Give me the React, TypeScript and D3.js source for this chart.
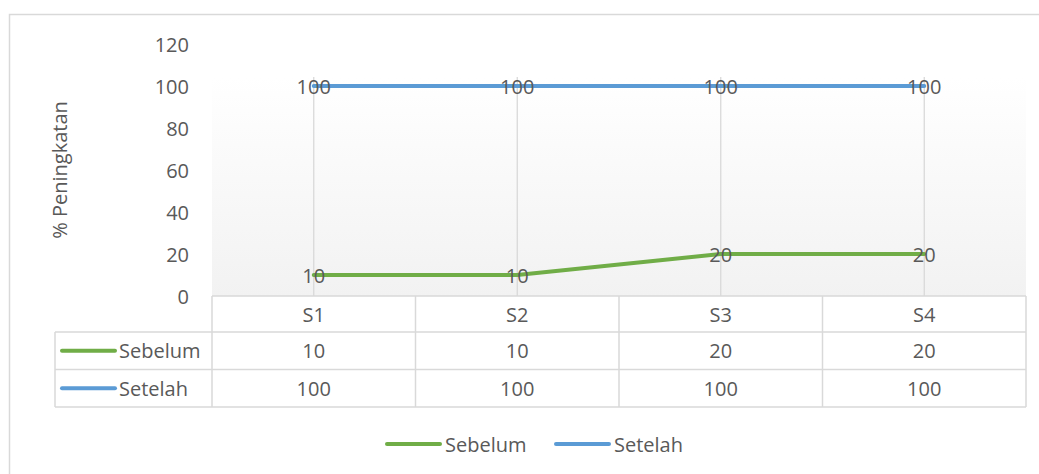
import React from 'react'
import * as d3 from 'd3'

// chart data
const categories = ['S1', 'S2', 'S3', 'S4']
const sebelum = [10, 10, 20, 20]
const setelah = [100, 100, 100, 100]
const yTicks = [0, 20, 40, 60, 80, 100, 120]

const series = [
    { name: 'Sebelum', values: sebelum, color: '#70ad47' },
    { name: 'Setelah', values: setelah, color: '#5b9bd5' },
]

const W = 1039
const H = 474
const FONT = "'Open Sans', sans-serif"
const TXT = '#595959'
const GRID = '#d9d9d9'

const App: React.FC = () => {
    const x = d3.scaleBand<string>().domain(categories).range([212, 1026])
    const y = d3.scaleLinear().domain([0, 120]).range([296, 44])
    const cx = (c: string) => (x(c) as number) + x.bandwidth() / 2

    const line = d3
        .line<number>()
        .x((_, i) => cx(categories[i]))
        .y((d) => y(d))

    // table rows
    const headTop = 296
    const rowH = 37.5
    const tableLeft = 55
    const rowTops = [headTop + 36, headTop + 36 + rowH]
    const tableBottom = rowTops[1] + rowH
    const bounds = [212, ...categories.map((c) => (x(c) as number) + x.bandwidth())]

    return (
        <div style={{ position: 'fixed', left: 0, top: 0 }}>
            <svg width={W} height={H} style={{ display: 'block', background: '#fff' }}>
                <defs>
                    <linearGradient id="plotbg" x1="0" y1="0" x2="0" y2="1">
                        <stop offset="0" stopColor="#ffffff" />
                        <stop offset="1" stopColor="#f2f2f2" />
                    </linearGradient>
                </defs>

                {/* chart frame */}
                <path d={`M9.5,${H} V14.5 H${W}`} fill="none" stroke={GRID} strokeWidth={1.5} />

                {/* plot background */}
                <rect x={212} y={77} width={1026 - 212} height={296 - 77} fill="url(#plotbg)" />

                {/* vertical gridlines */}
                {categories.map((c) => (
                    <line key={c} x1={cx(c)} x2={cx(c)} y1={77} y2={296} stroke={GRID} strokeWidth={1.3} />
                ))}

                {/* y tick labels */}
                {yTicks.map((t) => (
                    <text
                        key={t}
                        x={189}
                        y={y(t)}
                        textAnchor="end"
                        dominantBaseline="central"
                        fontFamily={FONT}
                        fontSize={20}
                        fill={TXT}
                    >
                        {t}
                    </text>
                ))}

                {/* y axis title */}
                <text
                    transform="translate(59,170) rotate(-90)"
                    textAnchor="middle"
                    dominantBaseline="central"
                    fontFamily={FONT}
                    fontSize={20}
                    fill={TXT}
                >
                    % Peningkatan
                </text>

                {/* lines */}
                {series.map((s) => (
                    <path
                        key={s.name}
                        d={line(s.values) as string}
                        fill="none"
                        stroke={s.color}
                        strokeWidth={4}
                        strokeLinecap="round"
                    />
                ))}

                {/* data labels */}
                {series.map((s) =>
                    s.values.map((v, i) => (
                        <text
                            key={s.name + i}
                            x={cx(categories[i])}
                            y={y(v)}
                            textAnchor="middle"
                            dominantBaseline="central"
                            fontFamily={FONT}
                            fontSize={20}
                            fill={TXT}
                        >
                            {v}
                        </text>
                    ))
                )}

                {/* data table */}
                <g fill="none" stroke={GRID} strokeWidth={1.5}>
                    <line x1={212} x2={1026} y1={headTop} y2={headTop} />
                    {rowTops.map((r) => (
                        <line key={r} x1={tableLeft} x2={1026} y1={r} y2={r} />
                    ))}
                    <line x1={tableLeft} x2={1026} y1={tableBottom} y2={tableBottom} />
                    <line x1={tableLeft} x2={tableLeft} y1={rowTops[0]} y2={tableBottom} />
                    {bounds.map((b) => (
                        <line key={b} x1={b} x2={b} y1={headTop} y2={tableBottom} />
                    ))}
                </g>
                {categories.map((c) => (
                    <text
                        key={c}
                        x={cx(c)}
                        y={headTop + 18}
                        textAnchor="middle"
                        dominantBaseline="central"
                        fontFamily={FONT}
                        fontSize={20}
                        fill={TXT}
                    >
                        {c}
                    </text>
                ))}
                {series.map((s, si) => (
                    <g key={s.name}>
                        <line
                            x1={62}
                            x2={115}
                            y1={rowTops[si] + rowH / 2}
                            y2={rowTops[si] + rowH / 2}
                            stroke={s.color}
                            strokeWidth={4}
                            strokeLinecap="round"
                        />
                        <text
                            x={119}
                            y={rowTops[si] + rowH / 2}
                            dominantBaseline="central"
                            fontFamily={FONT}
                            fontSize={20}
                            fill={TXT}
                        >
                            {s.name}
                        </text>
                        {s.values.map((v, i) => (
                            <text
                                key={i}
                                x={cx(categories[i])}
                                y={rowTops[si] + rowH / 2}
                                textAnchor="middle"
                                dominantBaseline="central"
                                fontFamily={FONT}
                                fontSize={20}
                                fill={TXT}
                            >
                                {v}
                            </text>
                        ))}
                    </g>
                ))}

                {/* legend */}
                {series.map((s, i) => {
                    const lx = 387 + i * 169
                    return (
                        <g key={s.name}>
                            <line x1={lx} x2={lx + 53} y1={444} y2={444} stroke={s.color} strokeWidth={4} strokeLinecap="round" />
                            <text
                                x={lx + 58}
                                y={444}
                                dominantBaseline="central"
                                fontFamily={FONT}
                                fontSize={20}
                                fill={TXT}
                            >
                                {s.name}
                            </text>
                        </g>
                    )
                })}
            </svg>
        </div>
    )
}

export default App
